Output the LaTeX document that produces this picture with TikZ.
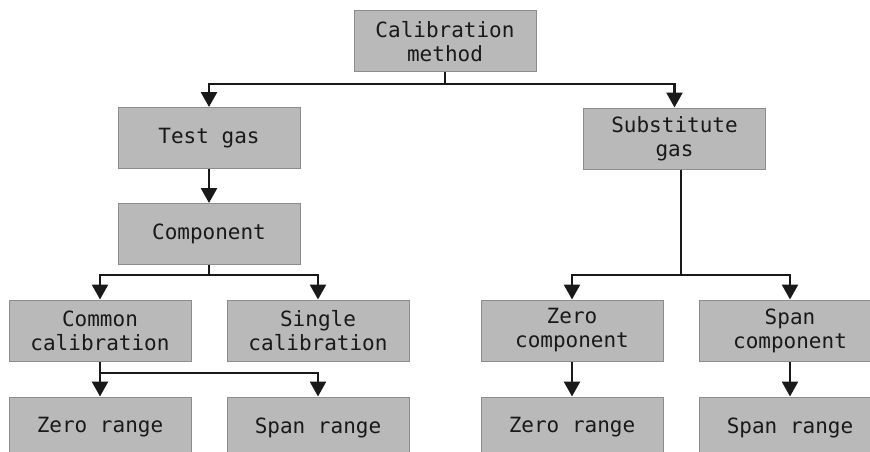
\documentclass[tikz,border=0pt]{standalone}
\usepackage{fontspec}
\setmonofont{DejaVu Sans Mono}
\usetikzlibrary{arrows.meta}
\definecolor{boxfill}{RGB}{185,185,185}
\definecolor{boxline}{RGB}{140,140,140}
\definecolor{ink}{RGB}{25,25,25}
\tikzset{
  box/.style={draw=boxline, line width=1pt, fill=boxfill, minimum width=182pt, minimum height=61pt,
    inner sep=0pt, align=center, text=ink, font=\ttfamily\fontsize{21}{24}\selectfont},
  conn/.style={draw=ink, line width=2.6pt},
  arr/.style={conn, -{Triangle[length=15pt,width=16pt]}}
}
\begin{document}
\begin{tikzpicture}[x=1pt,y=-1pt]
\clip (0,0) rectangle (870,452);
\fill[white] (0,0) rectangle (870,452);
\node[box] (cal) at (445,41.5) {Calibration\\method};
\node[box] (test) at (209,138) {Test gas};
\node[box] (sub) at (674.5,138.5) {Substitute\\gas};
\node[box] (comp) at (209,234) {Component};
\node[box] (common) at (100,330.5) {Common\\calibration};
\node[box] (single) at (318,330.5) {Single\\calibration};
\node[box] (zc) at (572,330.5) {Zero\\component};
\node[box] (sc) at (790,330.5) {Span\\component};
\node[box] (zr1) at (100,427.5) {Zero range};
\node[box] (sr1) at (318,427.5) {Span range};
\node[box] (zr2) at (572,427.5) {Zero range};
\node[box] (sr2) at (790,427.5) {Span range};
% top split
\coordinate (cj) at (445,84);
\draw[conn] (cal.south) -- (cj);
\draw[arr] (cj) -| (test.north);
\draw[arr] (cj) -| (sub.north);
% test -> component
\draw[arr] (test.south) -- (comp.north);
% component split
\coordinate (pj) at (209,275);
\draw[conn] (comp.south) -- (pj);
\draw[arr] (pj) -| (common.north);
\draw[arr] (pj) -| (single.north);
% substitute split
\coordinate (sj) at (681,275);
\draw[conn] (sub.south -| sj) -- (sj);
\draw[arr] (sj) -| (zc.north);
\draw[arr] (sj) -| (sc.north);
% common calibration
\coordinate (mj) at (100,373);
\draw[arr] (common.south) -- (zr1.north);
\draw[arr] (mj) -| (sr1.north);
% right column
\draw[arr] (zc.south) -- (zr2.north);
\draw[arr] (sc.south) -- (sr2.north);
\end{tikzpicture}
\end{document}
